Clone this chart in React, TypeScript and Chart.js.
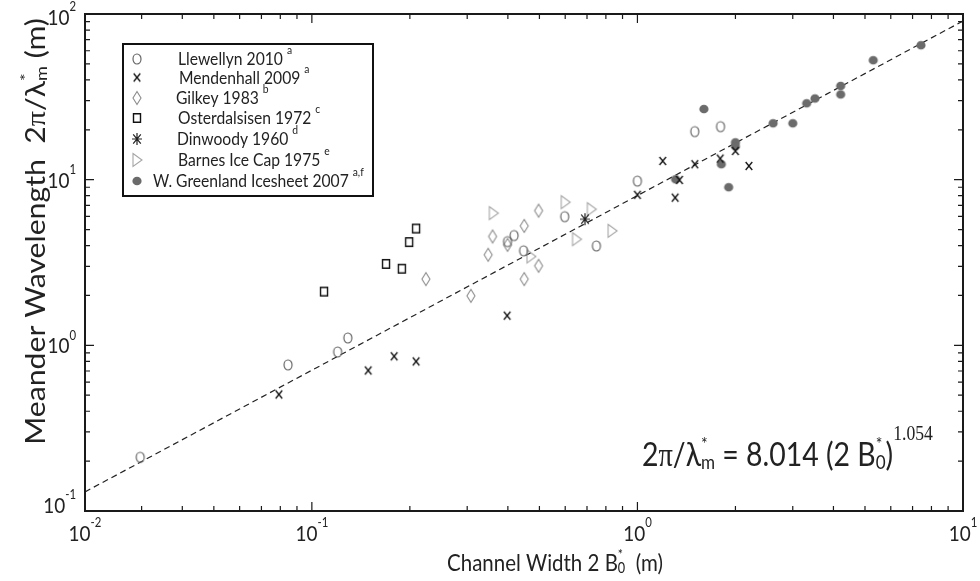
import React, { useEffect, useRef } from 'react';
import { Chart, registerables } from 'chart.js';

Chart.register(...registerables);

// ---------------- data ----------------
const llewellynX = [0.0297, 0.0845, 0.12, 0.129, 0.399, 0.418, 0.447, 0.598, 0.748, 1.0, 1.5, 1.8];
const llewellynY = [0.211, 0.762, 0.912, 1.108, 4.23, 4.6, 3.72, 5.98, 3.98, 9.8, 19.5, 20.9];

const mendenhallX = [0.0792, 0.149, 0.179, 0.209, 0.398, 1.0, 1.196, 1.306, 1.346, 1.5, 1.796, 2.0, 2.2];
const mendenhallY = [0.505, 0.705, 0.859, 0.8, 1.51, 8.1, 12.97, 7.79, 9.96, 12.4, 13.4, 14.9, 12.1];

const gilkeyX = [0.224, 0.308, 0.348, 0.359, 0.399, 0.449, 0.449, 0.497, 0.497];
const gilkeyY = [2.51, 1.99, 3.52, 4.54, 4.04, 5.26, 2.51, 6.5, 3.02];

const osterdalsisenX = [0.109, 0.169, 0.189, 0.199, 0.209];
const osterdalsisenY = [2.11, 3.1, 2.9, 4.2, 5.07];

const dinwoodyX = [0.69];
const dinwoodyY = [5.77];

const barnesX = [0.361, 0.471, 0.6, 0.65, 0.722, 0.836];
const barnesY = [6.28, 3.44, 7.31, 4.37, 6.63, 4.91];

const greenlandX = [1.6, 2.0, 2.0, 1.81, 1.31, 1.906, 2.61, 3.0, 3.31, 3.51, 4.21, 4.21, 5.3, 7.43];
const greenlandY = [26.7, 16.8, 15.9, 12.4, 10.05, 9.0, 21.9, 21.9, 28.9, 30.9, 36.8, 32.7, 52.6, 64.8];

// power-law fit shown on the chart: 2π/λ*m = 8.014 (2 B*0)^1.054
const fitCoef = 8.014;
const fitExp = 1.054;
const fitLineX = [0.0201, 10];

// axes
const xMin = 0.0201;
const xMax = 10;
const yMin = 0.1;
const yMax = 100;
const xTickValues = [0.0201, 0.1, 1, 10];
const xTickExponents = ['-2', '-1', '0', '1'];
const yTickValues = [0.1, 1, 10, 100];
const yTickExponents = ['-1', '0', '1', '2'];

// legend
const legendLabels = [
  'Llewellyn 2010',
  'Mendenhall 2009',
  'Gilkey 1983',
  'Osterdalsisen 1972',
  'Dinwoody 1960',
  'Barnes Ice Cap 1975',
  'W. Greenland Icesheet 2007',
];
const legendSups = ['a', 'a', 'b', 'c', 'd', 'e', 'a,f'];

// ---------------- styling helpers ----------------
const SANS = 'Lato, "Open Sans", "Liberation Sans", sans-serif';
const SERIF = '"Liberation Serif", "DejaVu Serif", serif';
const STRETCH = 1.15; // the reference is vertically stretched
const INK = '#222';

type Seg = { t: string; r?: number; dy?: number; fam?: string; stack?: boolean };

function segFont(s: Seg, base: number) {
  return `${(s.r ?? 1) * base}px ${s.fam ?? SANS}`;
}
function segW(ctx: CanvasRenderingContext2D, s: Seg, base: number) {
  ctx.font = segFont(s, base);
  return ctx.measureText(s.t).width;
}
function richWidth(ctx: CanvasRenderingContext2D, segs: Seg[], base: number) {
  let w = 0;
  for (let i = 0; i < segs.length; i++) {
    const s = segs[i];
    if (s.stack && i + 1 < segs.length) {
      w += Math.max(segW(ctx, s, base), segW(ctx, segs[i + 1], base));
      i++;
    } else w += segW(ctx, s, base);
  }
  return w;
}
function fitBase(ctx: CanvasRenderingContext2D, segs: Seg[], target: number, sx = 1) {
  return (100 * target) / (richWidth(ctx, segs, 100) * sx);
}
function drawRich(
  ctx: CanvasRenderingContext2D,
  segs: Seg[],
  base: number,
  x: number,
  y: number,
  align: 'left' | 'center' | 'right',
  sx = 1,
  sy = 1
) {
  const w = richWidth(ctx, segs, base);
  let cx = align === 'left' ? 0 : align === 'center' ? -w / 2 : -w;
  ctx.save();
  ctx.translate(x, y);
  ctx.scale(sx, sy);
  ctx.textAlign = 'left';
  ctx.textBaseline = 'alphabetic';
  for (let i = 0; i < segs.length; i++) {
    const s = segs[i];
    ctx.font = segFont(s, base);
    const w1 = ctx.measureText(s.t).width;
    ctx.fillText(s.t, cx, (s.dy ?? 0) * base);
    if (s.stack && i + 1 < segs.length) {
      const s2 = segs[i + 1];
      ctx.font = segFont(s2, base);
      const w2 = ctx.measureText(s2.t).width;
      ctx.fillText(s2.t, cx, (s2.dy ?? 0) * base);
      cx += Math.max(w1, w2);
      i++;
    } else cx += w1;
  }
  ctx.restore();
}

function makeMarker(kind: string): HTMLCanvasElement {
  const c = document.createElement('canvas');
  c.width = 20;
  c.height = 20;
  const g = c.getContext('2d')!;
  g.translate(10, 10);
  g.beginPath();
  switch (kind) {
    case 'circle':
      g.strokeStyle = '#666';
      g.lineWidth = 1.2;
      g.ellipse(0, 0, 4, 5, 0, 0, Math.PI * 2);
      g.stroke();
      break;
    case 'x':
      g.strokeStyle = '#111';
      g.lineWidth = 1.3;
      g.moveTo(-3.3, -4);
      g.lineTo(3.3, 4);
      g.moveTo(3.3, -4);
      g.lineTo(-3.3, 4);
      g.stroke();
      break;
    case 'diamond':
      g.strokeStyle = '#8c8c8c';
      g.lineWidth = 1.1;
      g.moveTo(0, -6.5);
      g.lineTo(4, 0);
      g.lineTo(0, 6.5);
      g.lineTo(-4, 0);
      g.closePath();
      g.stroke();
      break;
    case 'square':
      g.strokeStyle = '#111';
      g.lineWidth = 1.4;
      g.rect(-3.5, -4.2, 7, 8.4);
      g.stroke();
      break;
    case 'asterisk':
      g.strokeStyle = '#222';
      g.lineWidth = 1.2;
      g.moveTo(-5, 0);
      g.lineTo(5, 0);
      g.moveTo(0, -6);
      g.lineTo(0, 6);
      g.moveTo(-3.8, -4.6);
      g.lineTo(3.8, 4.6);
      g.moveTo(3.8, -4.6);
      g.lineTo(-3.8, 4.6);
      g.stroke();
      break;
    case 'triangle':
      g.strokeStyle = '#a6a6a6';
      g.lineWidth = 1.1;
      g.moveTo(-4, -6.5);
      g.lineTo(5, 0);
      g.lineTo(-4, 6.5);
      g.closePath();
      g.stroke();
      break;
    default:
      g.fillStyle = '#6b6b6b';
      g.ellipse(0, 0, 4.6, 4.3, 0, 0, Math.PI * 2);
      g.fill();
  }
  return c;
}

const markerKinds = ['circle', 'x', 'diamond', 'square', 'asterisk', 'triangle', 'dot'];

function pts(xs: number[], ys: number[]) {
  return xs.map((x, i) => ({ x, y: ys[i] }));
}

export default function App() {
  const ref = useRef<HTMLCanvasElement>(null);

  useEffect(() => {
    const canvas = ref.current!;
    const markers = markerKinds.map(makeMarker);
    const seriesX = [llewellynX, mendenhallX, gilkeyX, osterdalsisenX, dinwoodyX, barnesX, greenlandX];
    const seriesY = [llewellynY, mendenhallY, gilkeyY, osterdalsisenY, dinwoodyY, barnesY, greenlandY];

    const fitPts = fitLineX.map((x) => ({ x, y: fitCoef * Math.pow(x, fitExp) }));

    const decorations = {
      id: 'decorations',
      afterDraw(chart: any) {
        const ctx: CanvasRenderingContext2D = chart.ctx;
        const xs = chart.scales.x;
        const ys = chart.scales.y;
        const { left, right, top, bottom } = chart.chartArea;
        ctx.save();

        // frame
        ctx.strokeStyle = '#1a1a1a';
        ctx.lineWidth = 2;
        ctx.strokeRect(left, top, right - left, bottom - top);

        // ticks (inward, all four sides)
        ctx.lineWidth = 1.2;
        ctx.beginPath();
        for (const d of [0.01, 0.1, 1]) {
          for (let k = 1; k <= 9; k++) {
            const v = k * d;
            if (v <= xMin * 1.001 || v >= xMax) continue;
            const len = k === 1 ? 9 : 5;
            const px = xs.getPixelForValue(v);
            ctx.moveTo(px, bottom);
            ctx.lineTo(px, bottom - len);
            ctx.moveTo(px, top);
            ctx.lineTo(px, top + len);
          }
        }
        for (const d of [0.1, 1, 10]) {
          for (let k = 1; k <= 9; k++) {
            const v = k * d;
            if (v <= yMin * 1.001 || v >= yMax) continue;
            const len = k === 1 ? 9 : 5;
            const py = ys.getPixelForValue(v);
            ctx.moveTo(left, py);
            ctx.lineTo(left + len, py);
            ctx.moveTo(right, py);
            ctx.lineTo(right - len, py);
          }
        }
        ctx.stroke();

        ctx.fillStyle = INK;
        // tick labels
        const tickBase = fitBase(ctx, [{ t: '10' }], 22);
        xTickValues.forEach((v, i) => {
          const px = xs.getPixelForValue(v);
          drawRich(ctx, [{ t: '10' }, { t: xTickExponents[i], r: 0.6, dy: -0.62 }], tickBase, px, 541, 'center', 1, STRETCH);
        });
        yTickValues.forEach((v, i) => {
          let py = ys.getPixelForValue(v);
          py = Math.min(Math.max(py, top + 3), bottom - 6);
          const baseY = py + 0.36 * tickBase * STRETCH;
          drawRich(ctx, [{ t: '10' }, { t: yTickExponents[i], r: 0.6, dy: -0.62 }], tickBase, 76, baseY, 'right', 1, STRETCH);
        });

        // x title
        const xTitle: Seg[] = [
          { t: 'Channel Width 2 B' },
          { t: '*', r: 0.6, dy: -0.5, stack: true },
          { t: '0', r: 0.62, dy: 0.08 },
          { t: '  (m)' },
        ];
        const xtBase = fitBase(ctx, xTitle, 216);
        drawRich(ctx, xTitle, xtBase, 555, 571, 'center', 1, STRETCH);

        // y title (rotated)
        const yTitle: Seg[] = [
          { t: 'Meander Wavelength  2' },
          { t: 'π', fam: SERIF },
          { t: '/λ' },
          { t: '*', r: 0.6, dy: -0.55, stack: true },
          { t: 'm', r: 0.6, dy: 0.08 },
          { t: ' (m)' },
        ];
        const ytBase = fitBase(ctx, yTitle, 427, STRETCH);
        ctx.save();
        ctx.translate(45, 231.5);
        ctx.rotate(-Math.PI / 2);
        drawRich(ctx, yTitle, ytBase, 0, 0, 'center', STRETCH, 1);
        ctx.restore();

        // equation
        const eq: Seg[] = [
          { t: '2' },
          { t: 'π', fam: SERIF },
          { t: '/λ' },
          { t: '*', r: 0.55, dy: -0.5, stack: true },
          { t: 'm', r: 0.6, dy: 0.08 },
          { t: ' = 8.014 (2 B' },
          { t: '*', r: 0.55, dy: -0.5, stack: true },
          { t: '0', r: 0.6, dy: 0.08 },
          { t: ')' },
          { t: '1.054', r: 0.62, fam: SERIF, dy: -0.78 },
        ];
        const eqBase = fitBase(ctx, eq, 291);
        drawRich(ctx, eq, eqBase, 642, 466, 'left', 1, STRETCH);

        // legend box
        const lgL = 123, lgT = 44, lgR = 373, lgB = 196;
        ctx.fillStyle = '#fff';
        ctx.fillRect(lgL, lgT, lgR - lgL, lgB - lgT);
        ctx.strokeStyle = '#111';
        ctx.lineWidth = 2;
        ctx.strokeRect(lgL, lgT, lgR - lgL, lgB - lgT);
        ctx.fillStyle = INK;
        const lgBase = fitBase(ctx, [{ t: legendLabels[6] }], 196);
        const rowY = [59, 77.5, 98, 118, 139, 160, 181];
        const textX = [178, 179, 176, 178, 177, 178, 153];
        legendLabels.forEach((lab, i) => {
          const cy = rowY[i];
          ctx.drawImage(markers[i], 137 - 10, cy - 10);
          drawRich(
            ctx,
            [{ t: lab + ' ' }, { t: legendSups[i], r: 0.66, dy: -0.62 }],
            lgBase,
            textX[i],
            cy + 0.36 * lgBase * STRETCH,
            'left',
            1,
            STRETCH
          );
        });

        ctx.restore();
      },
    };

    const datasets: any[] = [
      {
        type: 'line',
        data: fitPts,
        borderColor: '#222',
        borderWidth: 1.2,
        borderDash: [6, 4],
        pointRadius: 0,
        fill: false,
        order: 10,
      },
      ...legendLabels.map((lab, i) => ({
        type: 'scatter',
        label: lab,
        data: pts(seriesX[i], seriesY[i]),
        pointStyle: markers[i],
        pointRadius: 5,
        pointHoverRadius: 5,
        order: i,
      })),
    ];

    const chart = new Chart(canvas, {
      type: 'scatter',
      data: { datasets },
      options: {
        animation: false,
        responsive: false,
        devicePixelRatio: 1,
        layout: { padding: { left: 85, right: 17, top: 14, bottom: 70 } },
        scales: {
          x: { type: 'logarithmic', min: xMin, max: xMax, display: false },
          y: { type: 'logarithmic', min: yMin, max: yMax, display: false },
        },
        plugins: { legend: { display: false }, tooltip: { enabled: false } },
        events: [],
      },
      plugins: [decorations],
    } as any);

    return () => chart.destroy();
  }, []);

  return (
    <div style={{ position: 'absolute', left: 0, top: 0, width: 980, height: 581, background: '#fff' }}>
      <canvas ref={ref} width={980} height={581} />
    </div>
  );
}
